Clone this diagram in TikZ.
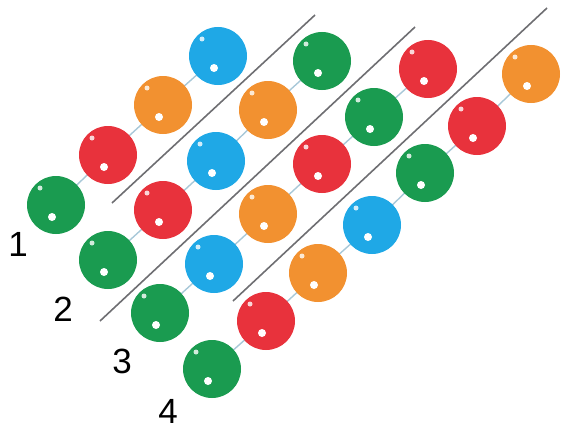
\documentclass[tikz,border=0pt]{standalone}
\usepackage{fontspec}
\setmainfont{Liberation Sans}
\definecolor{bgreen}{HTML}{1A9B50}
\definecolor{bred}{HTML}{E8323C}
\definecolor{borange}{HTML}{F29130}
\definecolor{bblue}{HTML}{1FA8E6}
\definecolor{connc}{HTML}{A8C8D8}
\definecolor{sepc}{HTML}{6E6E72}
\begin{document}
\begin{tikzpicture}[x=1pt,y=-1pt,
  ball/.style={circle,minimum size=58pt,inner sep=0pt,fill=#1,
    path picture={
      \fill[white] (path picture bounding box.center) ++(-4,12) circle (4pt);
      \fill[white,opacity=0.8] (path picture bounding box.center) ++(-16,-17) circle (2.5pt);
    }},
  conn/.style={draw=connc,line width=1.4pt},
  sep/.style={draw=sepc,line width=1.6pt},
  lab/.style={inner sep=0pt,font=\fontsize{35}{40}\selectfont}]
\useasboundingbox (0,0) rectangle (561,428);

% row 1
\coordinate (a1) at (56,205);
\coordinate (a2) at (108,155);
\coordinate (a3) at (163,105);
\coordinate (a4) at (218,56);
% row 2
\coordinate (b1) at (108,260);
\coordinate (b2) at (163,210);
\coordinate (b3) at (216,161);
\coordinate (b4) at (268,110);
\coordinate (b5) at (322,61);
% row 3
\coordinate (c1) at (160,313);
\coordinate (c2) at (214,264);
\coordinate (c3) at (268,214);
\coordinate (c4) at (322,164);
\coordinate (c5) at (374,117);
\coordinate (c6) at (428,69);
% row 4
\coordinate (d1) at (212,369);
\coordinate (d2) at (266,321);
\coordinate (d3) at (318,273);
\coordinate (d4) at (372,225);
\coordinate (d5) at (425,173);
\coordinate (d6) at (477,126);
\coordinate (d7) at (531,74);

% strings
\draw[conn] (a1) -- (a2) -- (a3) -- (a4);
\draw[conn] (b1) -- (b2) -- (b3) -- (b4) -- (b5);
\draw[conn] (c1) -- (c2) -- (c3) -- (c4) -- (c5) -- (c6);
\draw[conn] (d1) -- (d2) -- (d3) -- (d4) -- (d5) -- (d6) -- (d7);

% balls
\node[ball=bgreen] (A1) at (a1) {};
\node[ball=bred] (A2) at (a2) {};
\node[ball=borange] (A3) at (a3) {};
\node[ball=bblue] (A4) at (a4) {};

\node[ball=bgreen] (B1) at (b1) {};
\node[ball=bred] (B2) at (b2) {};
\node[ball=bblue] (B3) at (b3) {};
\node[ball=borange] (B4) at (b4) {};
\node[ball=bgreen] (B5) at (b5) {};

\node[ball=bgreen] (C1) at (c1) {};
\node[ball=bblue] (C2) at (c2) {};
\node[ball=borange] (C3) at (c3) {};
\node[ball=bred] (C4) at (c4) {};
\node[ball=bgreen] (C5) at (c5) {};
\node[ball=bred] (C6) at (c6) {};

\node[ball=bgreen] (D1) at (d1) {};
\node[ball=bred] (D2) at (d2) {};
\node[ball=borange] (D3) at (d3) {};
\node[ball=bblue] (D4) at (d4) {};
\node[ball=bgreen] (D5) at (d5) {};
\node[ball=bred] (D6) at (d6) {};
\node[ball=borange] (D7) at (d7) {};

% separators
\coordinate (s1a) at (112,203);
\coordinate (s1b) at (315,15);
\coordinate (s2a) at (100,321);
\coordinate (s2b) at (415,27);
\coordinate (s3a) at (233,301);
\coordinate (s3b) at (547,8);
\draw[sep] (s1a) -- (s1b);
\draw[sep] (s2a) -- (s2b);
\draw[sep] (s3a) -- (s3b);

% labels
\node[lab] (l1) at (18,244) {1};
\node[lab] (l2) at (63,309) {2};
\node[lab] (l3) at (122,361) {3};
\node[lab] (l4) at (168,411) {4};
\end{tikzpicture}
\end{document}
